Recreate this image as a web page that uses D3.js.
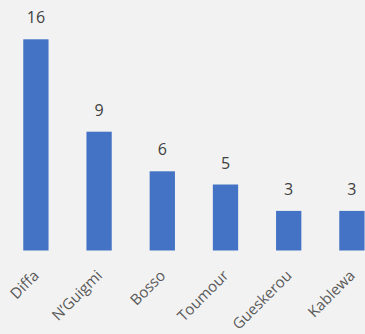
<!DOCTYPE html>
<html>
<head>
<meta charset="utf-8">
<script src="https://cdn.jsdelivr.net/npm/d3@7"></script>
<style>
  html, body { margin: 0; padding: 0; background: #f2f2f2; }
  svg { display: block; }
</style>
</head>
<body>
<svg id="chart" width="365" height="334"></svg>
<script>
// Cases by commune
const categories = ["Diffa", "N\u2019Guigmi", "Bosso", "Toumour", "Gueskerou", "Kablewa"];
const values = [16, 9, 6, 5, 3, 3];

const svg = d3.select("#chart");
const W = 365, H = 334;
const baseline = 250.5;
const font = "'Open Sans', 'Noto Sans', sans-serif";

svg.append("rect").attr("width", W).attr("height", H).attr("fill", "#f2f2f2");

const x = d3.scaleBand()
  .domain(categories)
  .range([4.3, 383.5])
  .paddingInner(0.6)
  .paddingOuter(0.3);

const y = d3.scaleLinear()
  .domain([0, 16])
  .range([baseline, 39.3]);

const rows = categories.map((c, i) => ({ c, v: values[i] }));

// bars
svg.append("g").selectAll("rect")
  .data(rows)
  .join("rect")
  .attr("x", d => x(d.c))
  .attr("y", d => y(d.v))
  .attr("width", x.bandwidth())
  .attr("height", d => y(0) - y(d.v))
  .attr("fill", "#4472c4");

// value labels
svg.append("g").selectAll("text")
  .data(rows)
  .join("text")
  .attr("x", d => x(d.c) + x.bandwidth() / 2)
  .attr("y", d => y(d.v) - 16)
  .attr("text-anchor", "middle")
  .attr("font-family", font)
  .attr("font-size", 16)
  .attr("fill", "#404040")
  .text(d => d.v);

// category axis, labels rotated
const axis = svg.append("g")
  .attr("transform", `translate(0,${baseline})`)
  .call(d3.axisBottom(x).tickSize(0).tickPadding(0));
axis.select(".domain").remove();
axis.selectAll("text")
  .attr("font-family", font)
  .attr("font-size", 15)
  .attr("fill", "#595959")
  .attr("text-anchor", "end")
  .attr("dy", null)
  .attr("y", 0)
  .attr("transform", "translate(4,26) rotate(-45)");
</script>
</body>
</html>
